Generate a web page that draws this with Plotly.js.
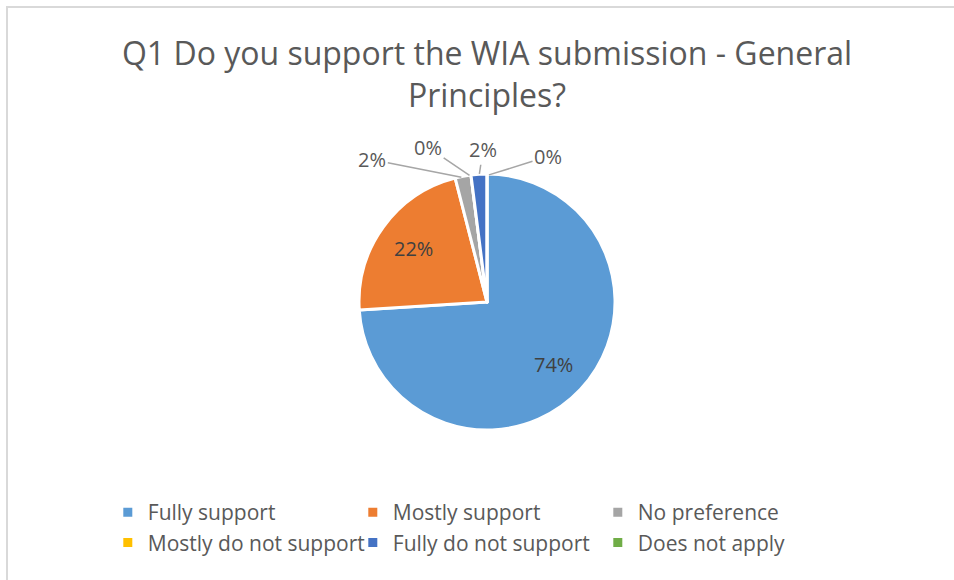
<!DOCTYPE html>
<html>
<head>
<meta charset="utf-8">
<script src="https://cdn.plot.ly/plotly-3.0.1.min.js"></script>
<style>
html,body{margin:0;padding:0;background:#fff;}
#wrap{position:relative;width:954px;height:580px;overflow:hidden;}
#chart{position:absolute;left:0;top:0;width:954px;height:580px;}
#frame{position:absolute;left:6px;top:6px;width:1000px;height:1000px;border-top:2px solid #d9d9d9;border-left:2px solid #d9d9d9;pointer-events:none;}
</style>
</head>
<body>
<div id="wrap"><div id="chart"></div><div id="frame"></div></div>
<script>
var categories = ["Fully support", "Mostly support", "No preference", "Mostly do not support", "Fully do not support", "Does not apply"];
var responses = [37, 11, 1, 0, 1, 0];
var sliceColors = ["#5B9BD5", "#ED7D31", "#A5A5A5", "#FFC000", "#4472C4", "#70AD47"];
var titleText = "Q1 Do you support the WIA submission - General<br>Principles?";

var W = 954, H = 580;
var font = "'Open Sans', 'Noto Sans', sans-serif";
var domX = [0.3763, 0.6447], domY = [0.2586, 0.7000];

// label placement style: inside (radius fraction) or outside (pixel offset of text from slice edge)
var labelStyle = [
  {inside: 0.72}, {inside: 0.72},
  {dx: -91, dy: -18}, {dx: -43, dy: -29}, {dx: 4, dy: -26}, {dx: 61, dy: -19}
];

var trace = {
  type: "pie",
  labels: categories,
  values: responses,
  sort: false,
  direction: "clockwise",
  rotation: 0,
  marker: {colors: sliceColors, line: {color: "#ffffff", width: 3}},
  textinfo: "none",
  domain: {x: domX, y: domY},
  hoverinfo: "label+percent"
};

// pie geometry (same as Plotly's: circle inscribed in domain)
var pw = (domX[1] - domX[0]) * W, ph = (domY[1] - domY[0]) * H;
var r = Math.min(pw, ph) / 2 - 1.5;
var cxp = (domX[0] + domX[1]) / 2, cyp = (domY[0] + domY[1]) / 2;
var total = responses.reduce(function (a, b) { return a + b; }, 0);
var annotations = [];
var cum = 0;
responses.forEach(function (v, i) {
  var mid = (cum + v / 2) / total * 2 * Math.PI;
  cum += v;
  var txt = Math.round(v / total * 100) + "%";
  var st = labelStyle[i];
  if (st.inside) {
    annotations.push({
      xref: "paper", yref: "paper",
      x: cxp + st.inside * r * Math.sin(mid) / W,
      y: cyp + st.inside * r * Math.cos(mid) / H,
      text: txt, showarrow: false,
      font: {family: font, size: 20, color: "#404040"}
    });
  } else {
    annotations.push({
      xref: "paper", yref: "paper",
      x: cxp + r * Math.sin(mid) / W,
      y: cyp + r * Math.cos(mid) / H,
      ax: st.dx, ay: st.dy,
      text: txt, showarrow: true, arrowhead: 0, arrowwidth: 1.5,
      arrowcolor: "#a6a6a6", standoff: 2, startstandoff: 0,
      font: {family: font, size: 20, color: "#595959"}
    });
  }
});

var layout = {
  width: W, height: H,
  margin: {l: 0, r: 0, t: 0, b: 0},
  paper_bgcolor: "#ffffff",
  font: {family: font, color: "#595959"},
  title: {text: titleText, font: {family: font, size: 32, color: "#595959"}, x: 0.5105, xanchor: "center", y: 0.8875, yref: "container", yanchor: "middle"},
  showlegend: true,
  annotations: annotations,
  legend: {orientation: "h", x: 0.113, xanchor: "left", y: 0.1515, yanchor: "top", font: {family: font, size: 21, color: "#595959"}, entrywidth: 200, entrywidthmode: "pixels", traceorder: "normal"}
};
Plotly.newPlot("chart", [trace], layout, {displayModeBar: false, staticPlot: true});
</script>
</body>
</html>
